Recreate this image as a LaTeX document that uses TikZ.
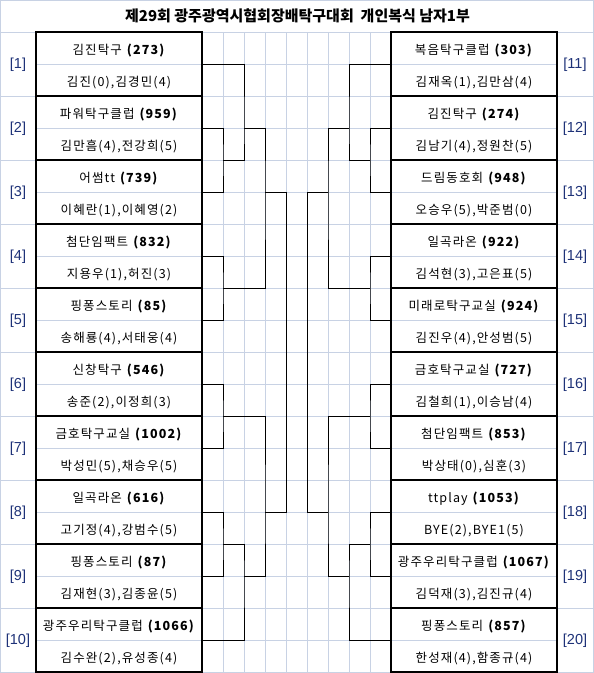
\documentclass[tikz,border=0pt]{standalone}
\usepackage{fontspec}
\setmainfont{Noto Sans CJK KR}
\newfontfamily\boxfont{Noto Sans CJK KR}[LetterSpace=9]
\newfontfamily\lblfont{Liberation Sans}
\definecolor{gridc}{RGB}{200,210,228}
\definecolor{lblc}{RGB}{30,50,120}
\newcommand{\teamnode}[7]{%
  \node[teambox] (t#1) at (#2,#3) {};
  \node[teamtxt] (t#1n) at (#2,#3-10) {#4 \textbf{(#5)}};
  \node[teamtxt] (t#1p) at (#2,#3+22) {#6};
  \node[lbl] (l#1) at (#7,#3+1) {[#1]};
}
\begin{document}
\begin{tikzpicture}[x=1pt,y=-1pt,
  gridline/.style={draw=gridc,line width=0.8pt},
  teambox/.style={draw=black,line width=2.3pt,minimum width=166pt,minimum height=64pt,inner sep=0pt,outer sep=0pt},
  teamtxt/.style={anchor=base,inner sep=0pt,font=\boxfont\fontsize{12.5}{14}\selectfont},
  lbl/.style={inner sep=0pt,text=lblc,font=\lblfont\fontsize{14.5}{16}\selectfont},
  conn/.style={draw=black,line width=1pt},
  titlestyle/.style={inner sep=0pt,font=\fontsize{15}{18}\selectfont\bfseries}
]
\useasboundingbox (0,0) rectangle (594,673);
\fill[white] (0,0) rectangle (594,673);
% grid
\draw[gridline] (0,0.5) -- (594,0.5);
\draw[gridline] (0.5,0) -- (0.5,673);
\draw[gridline] (593.5,0) -- (593.5,673);
\foreach \k in {0,...,20} \draw[gridline] (202,{32+32*\k}) -- (391,{32+32*\k});
\foreach \j in {1,...,8} \draw[gridline] ({202+21*\j},32) -- ({202+21*\j},673);
\foreach \i in {0,...,9} {
  \draw[gridline] (36,{64+64*\i}) -- (202,{64+64*\i});
  \draw[gridline] (391,{64+64*\i}) -- (557,{64+64*\i});
}
\foreach \i in {0,...,10} {
  \draw[gridline] (0,{32+64*\i}) -- (36,{32+64*\i});
  \draw[gridline] (557,{32+64*\i}) -- (594,{32+64*\i});
}
% title
\node[titlestyle] (title) at (297.5,16) {제29회 광주광역시협회장배탁구대회\ \ 개인복식 남자1부};
% left teams
\teamnode{1}{119}{64}{김진탁구}{273}{김진(0),김경민(4)}{18}
\teamnode{2}{119}{128}{파워탁구클럽}{959}{김만흠(4),전강희(5)}{18}
\teamnode{3}{119}{192}{어썸tt}{739}{이혜란(1),이혜영(2)}{18}
\teamnode{4}{119}{256}{첨단임팩트}{832}{지용우(1),허진(3)}{18}
\teamnode{5}{119}{320}{핑퐁스토리}{85}{송해룡(4),서태웅(4)}{18}
\teamnode{6}{119}{384}{신창탁구}{546}{송준(2),이정희(3)}{18}
\teamnode{7}{119}{448}{금호탁구교실}{1002}{박성민(5),채승우(5)}{18}
\teamnode{8}{119}{512}{일곡라온}{616}{고기정(4),강범수(5)}{18}
\teamnode{9}{119}{576}{핑퐁스토리}{87}{김재현(3),김종윤(5)}{18}
\teamnode{10}{119}{640}{광주우리탁구클럽}{1066}{김수완(2),유성종(4)}{18}
% right teams
\teamnode{11}{474}{64}{복음탁구클럽}{303}{김재옥(1),김만삼(4)}{575}
\teamnode{12}{474}{128}{김진탁구}{274}{김남기(4),정원찬(5)}{575}
\teamnode{13}{474}{192}{드림동호회}{948}{오승우(5),박준범(0)}{575}
\teamnode{14}{474}{256}{일곡라온}{922}{김석현(3),고은표(5)}{575}
\teamnode{15}{474}{320}{미래로탁구교실}{924}{김진우(4),안성범(5)}{575}
\teamnode{16}{474}{384}{금호탁구교실}{727}{김철희(1),이승남(4)}{575}
\teamnode{17}{474}{448}{첨단임팩트}{853}{박상태(0),심훈(3)}{575}
\teamnode{18}{474}{512}{ttplay}{1053}{BYE(2),BYE1(5)}{575}
\teamnode{19}{474}{576}{광주우리탁구클럽}{1067}{김덕재(3),김진규(4)}{575}
\teamnode{20}{474}{640}{핑퐁스토리}{857}{한성재(4),함종규(4)}{575}
% left bracket coordinates
\coordinate (m23) at (223,160);
\coordinate (m45) at (223,288);
\coordinate (m67) at (223,416);
\coordinate (m89) at (223,544);
\coordinate (s1) at (244,128);
\coordinate (s2) at (265,192);
\coordinate (s3) at (244,576);
\coordinate (s4) at (265,512);
\coordinate (fl) at (286,192);
\coordinate (fl2) at (286,512);
\draw[conn] (t2.east) -| (m23) |- (t3.east);
\draw[conn] (t1.east) -| (s1) |- (m23);
\draw[conn] (t4.east) -| (m45) |- (t5.east);
\draw[conn] (s1) -| (s2) |- (m45);
\draw[conn] (t6.east) -| (m67) |- (t7.east);
\draw[conn] (t8.east) -| (m89) |- (t9.east);
\draw[conn] (t10.east) -| (s3) |- (m89);
\draw[conn] (s3) -| (s4) |- (m67);
\draw[conn] (s2) -- (fl) -- (fl2) -- (s4);
% right bracket coordinates
\coordinate (n23) at (370,160);
\coordinate (n45) at (370,288);
\coordinate (n67) at (370,416);
\coordinate (n89) at (370,544);
\coordinate (r1) at (349,128);
\coordinate (r2) at (328,192);
\coordinate (r3) at (349,576);
\coordinate (r4) at (328,512);
\coordinate (fr) at (307,192);
\coordinate (fr2) at (307,512);
\draw[conn] (t12.west) -| (n23) |- (t13.west);
\draw[conn] (t11.west) -| (r1) |- (n23);
\draw[conn] (t14.west) -| (n45) |- (t15.west);
\draw[conn] (r1) -| (r2) |- (n45);
\draw[conn] (t16.west) -| (n67) |- (t17.west);
\draw[conn] (t18.west) -| (n89) |- (t19.west);
\draw[conn] (t20.west) -| (r3) |- (n89);
\draw[conn] (r3) -| (r4) |- (n67);
\draw[conn] (r2) -- (fr) -- (fr2) -- (r4);
\end{tikzpicture}
\end{document}
